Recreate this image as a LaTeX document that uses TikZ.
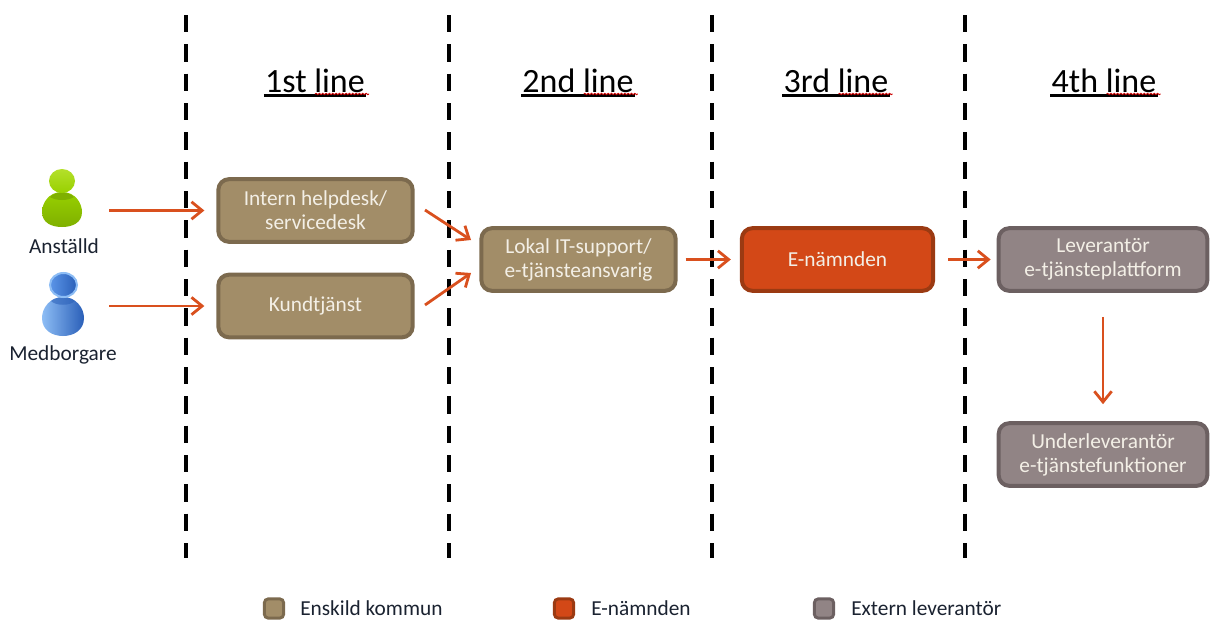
\documentclass[tikz,border=0pt]{standalone}
\usepackage{fontspec}
\setmainfont{Carlito}
\usetikzlibrary{arrows.meta,decorations.pathmorphing,shadings,calc}
\definecolor{tanF}{HTML}{A28D68}\definecolor{tanD}{HTML}{7C6A4E}
\definecolor{orgF}{HTML}{D34817}\definecolor{orgD}{HTML}{9B3A12}
\definecolor{gryF}{HTML}{918485}\definecolor{gryD}{HTML}{6C6061}
\definecolor{arr}{HTML}{D9501E}\definecolor{boxtxt}{HTML}{F3EFE6}
\definecolor{inkc}{HTML}{1A2230}
\definecolor{grA}{HTML}{B4E02A}\definecolor{grB}{HTML}{98D000}\definecolor{grC}{HTML}{7FB000}
\definecolor{blA}{HTML}{8DBDF5}\definecolor{blB}{HTML}{5B95E8}\definecolor{blC}{HTML}{2A5FB8}
\tikzset{
 x=0.75pt,y=-0.75pt,
 phase/.style={line width=3pt,black,dash pattern=on 13pt off 9pt},
 conn/.style={line width=2.1pt,arr,-{Straight Barb[length=8pt,width=13pt,line width=2.1pt]}},
 card/.style={draw,line width=3pt,rounded corners=8pt,align=center,text=boxtxt,font=\fontsize{16pt}{18pt}\selectfont,inner sep=0pt,minimum height=47pt},
 tan/.style={card,fill=tanF,draw=tanD},
 org/.style={card,fill=orgF,draw=orgD},
 gry/.style={card,fill=gryF,draw=gryD},
 head/.style={font=\fontsize{25.5pt}{30pt}\selectfont,text=black,inner sep=0pt,anchor=base},
 who/.style={font=\fontsize{16pt}{19pt}\selectfont,text=inkc,inner sep=0pt},
 key/.style={draw,line width=2.2pt,rounded corners=3pt,minimum size=14.5pt,inner sep=0pt},
 keytxt/.style={font=\fontsize{16pt}{19pt}\selectfont,text=inkc,inner sep=0pt,anchor=west},
 icon/.style={minimum width=30pt,minimum height=43pt,inner sep=0pt},
 under/.style={line width=1.9pt,black},
 squig/.style={line width=0.7pt,red!80!black,decorate,decoration={snake,amplitude=0.5pt,segment length=2.5pt}},
}
\begin{document}
\begin{tikzpicture}
\useasboundingbox (0,0) rectangle (1210,621);
% phase lines
\foreach \n/\x in {a/186,b/449,c/712,d/965}{
 \coordinate (top\n) at (\x,15); \coordinate (bot\n) at (\x,558);
 \draw[phase] (top\n) -- (bot\n);
}
% titles
\foreach \n/\x/\t in {h1/315/1st line,h2/578/2nd line,h3/836/3rd line,h4/1104/4th line}{
 \node[head] (\n) at (\x,92.5) {\t};
 \draw[under] ($(\n.base west)+(-1,3)$) -- ($(\n.base east)+(1,3)$);
 \draw[squig] ($(\n.base east)+(-50,1.5)$) -- ($(\n.base east)+(4,1.5)$);
}
% people
\node[icon] (anst) at (62,198) {};
\shade[top color=grB,middle color=grB,bottom color=grC] (42,212) .. controls (42,204) and (48,192) .. (62,192)
 .. controls (76,192) and (82,204) .. (82,212) .. controls (82,223) and (72,227) .. (62,227)
 .. controls (52,227) and (42,223) .. (42,212) -- cycle;
\fill[grC] (50,197) .. controls (55,191) and (69,191) .. (74,197) .. controls (68,201) and (56,201) .. (50,197) -- cycle;
\shade[top color=grA,bottom color=grB] (62,181) ellipse [x radius=13,y radius=12];
\node[who] (anstt) at (64,246) {Anställd};
\node[icon] (med) at (62,304) {};
\shade[left color=blA,right color=blC] (42,318) .. controls (42,308) and (50,297) .. (63,297)
 .. controls (76,297) and (84,308) .. (84,318) .. controls (84,330) and (74,336) .. (63,336)
 .. controls (52,336) and (42,330) .. (42,318) -- cycle;
\fill[blC,opacity=.55] (51,301) .. controls (56,296) and (70,296) .. (75,301) .. controls (70,306) and (56,306) .. (51,301) -- cycle;
\shade[left color=blB,right color=blC,draw=blA,line width=1.5pt] (63.5,285) ellipse [x radius=13.5,y radius=12];
\node[who] (medt) at (63,355) {Medborgare};
% boxes
\node[tan,minimum width=145.7pt] (b1) at (315.5,210.5) {Intern helpdesk/\\servicedesk};
\node[tan,minimum width=145.7pt] (b2) at (315.5,306) {\raisebox{-1.5pt}{Kundtjänst}};
\node[tan,minimum width=145.7pt] (b3) at (578.5,259.5) {Lokal IT-support/\\e-tjänsteansvarig};
\node[org,minimum width=143.5pt] (b4) at (837.5,259.5) {E-nämnden};
\node[gry,minimum width=156.5pt] (b5) at (1103,259.5) {Leverantör\\e-tjänsteplattform};
\node[gry,minimum width=156.5pt] (b6) at (1103,454.5) {Underleverantör\\e-tjänstefunktioner};
% connectors
\draw[conn,shorten <=27pt*0.75,shorten >=12pt*0.75] (anst.east |- b1.west) -- (b1.west);
\draw[conn,shorten <=27pt*0.75,shorten >=12pt*0.75] (med.east |- b2.west) -- (b2.west);
\coordinate (s1) at (425,210); \coordinate (e1) at (471,240);
\coordinate (s2) at (425,305); \coordinate (e2) at (471,273);
\draw[conn] (s1) -- (e1);
\draw[conn] (s2) -- (e2);
\draw[conn,shorten <=8pt*0.75,shorten >=9pt*0.75] (b3.east |- b4.west) -- (b4.west);
\draw[conn,shorten <=13pt*0.75,shorten >=6pt*0.75] (b4.east) -- (b5.west);
\draw[conn,shorten <=24pt*0.75,shorten >=17pt*0.75] (b5.south) -- (b6.north);
% legend
\node[key,fill=tanF,draw=tanD] (k1) at (274,608.5) {};
\node[key,fill=orgF,draw=orgD] (k2) at (564,608.5) {};
\node[key,fill=gryF,draw=gryD] (k3) at (824,608.5) {};
\node[keytxt] (t1) at (300,608) {Enskild kommun};
\node[keytxt] (t2) at (591,608) {E-nämnden};
\node[keytxt] (t3) at (851,608) {Extern leverantör};
\end{tikzpicture}
\end{document}
